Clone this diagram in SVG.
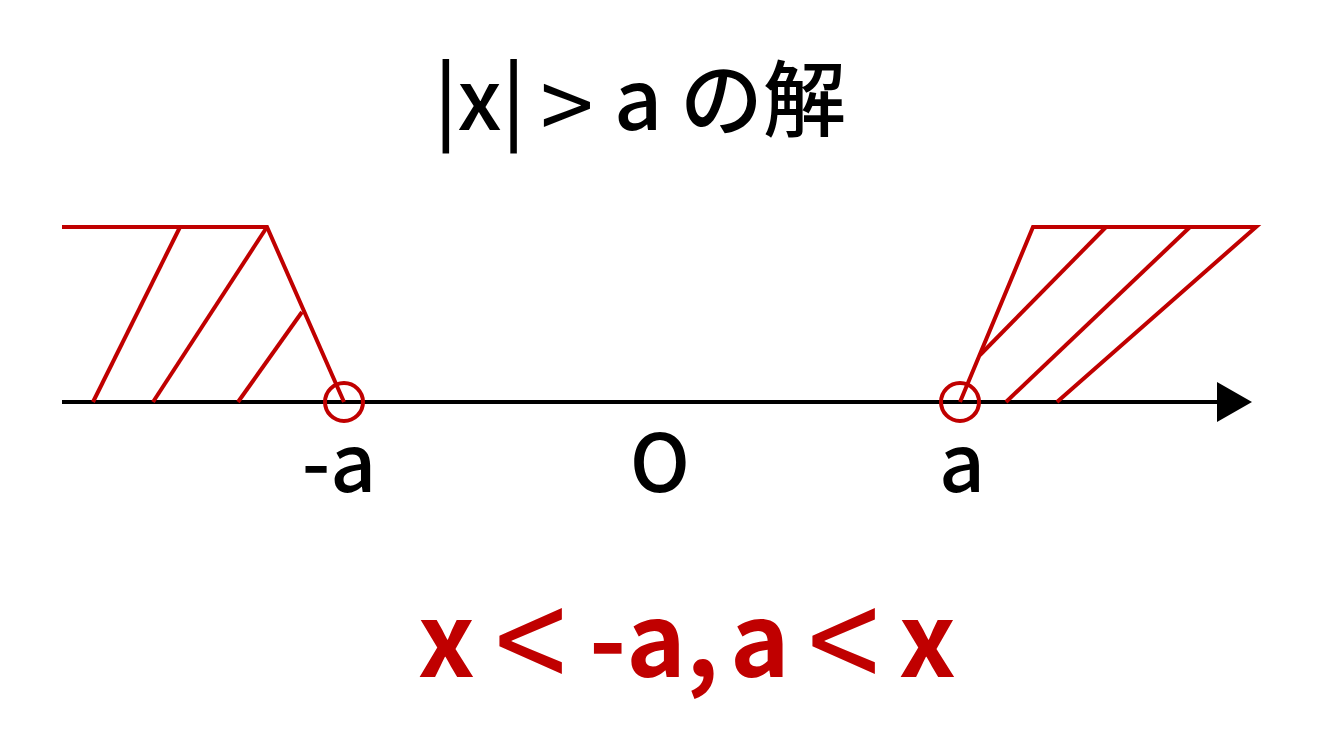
<svg xmlns="http://www.w3.org/2000/svg" width="1333" height="750" viewBox="0 0 1333 750">
<style>
.red{stroke:#C00000;stroke-width:4;fill:none;stroke-linecap:butt;stroke-linejoin:miter}
.axis{stroke:#000;stroke-width:4;fill:none}
.t{font-family:"Noto Sans CJK JP","Noto Sans",sans-serif;fill:#000;font-weight:500}
.ans{font-family:"Noto Sans CJK JP","Noto Sans",sans-serif;fill:#C00000;font-weight:700;font-size:101px}
.op{font-family:"Noto Sans CJK JP","Noto Sans",sans-serif;font-weight:400;text-anchor:middle}
</style>
<defs>
<marker id="arrow" viewBox="0 0 35 40" refX="0" refY="20" markerWidth="35" markerHeight="40" markerUnits="userSpaceOnUse" orient="auto">
<path d="M0,0 L35,20 L0,40 Z" fill="#000"/>
</marker>
</defs>
<rect width="1333" height="750" fill="#fff"/>
<g id="title">
<text class="t" x="434" y="130" font-size="84">|x|</text>
<text class="op" x="567" y="141" font-size="96" fill="#000">&gt;</text>
<text class="t" x="614" y="130" font-size="84">a</text>
<text class="t" x="680" y="130" font-size="83">の解</text>
</g>
<g id="axis"><line class="axis" x1="62" y1="402" x2="1217" y2="402" marker-end="url(#arrow)"/></g>
<g id="left-region">
<polyline class="red" points="62,227 267,227 344,402"/>
<line class="red" x1="180" y1="227" x2="93" y2="402"/>
<line class="red" x1="267" y1="227" x2="153" y2="402"/>
<line class="red" x1="302" y1="312" x2="238" y2="402"/>
<circle class="red" cx="344" cy="402" r="19"/>
</g>
<g id="right-region">
<polyline class="red" points="960,402 1033,227 1256,227 1057,402"/>
<line class="red" x1="1106" y1="227" x2="980" y2="355"/>
<line class="red" x1="1190" y1="227" x2="1006" y2="402"/>
<circle class="red" cx="960" cy="402" r="19"/>
</g>
<g id="labels">
<text class="t" x="339" y="492" font-size="80" text-anchor="middle">-a</text>
<text class="t" x="660" y="492" font-size="80" text-anchor="middle">O</text>
<text class="t" x="962" y="492" font-size="80" text-anchor="middle">a</text>
</g>
<g id="answer">
<text class="ans" x="446.5" y="677" text-anchor="middle">x</text>
<text class="op" x="0" y="43" font-size="130" fill="#C00000" transform="translate(530.5,646) scale(1,1.13)">&lt;</text>
<text class="ans" x="589" y="677">-a,</text>
<text class="ans" x="730" y="677">a</text>
<text class="op" x="0" y="43" font-size="130" fill="#C00000" transform="translate(843.5,646) scale(1,1.13)">&lt;</text>
<text class="ans" x="927.5" y="677" text-anchor="middle">x</text>
</g>
</svg>
